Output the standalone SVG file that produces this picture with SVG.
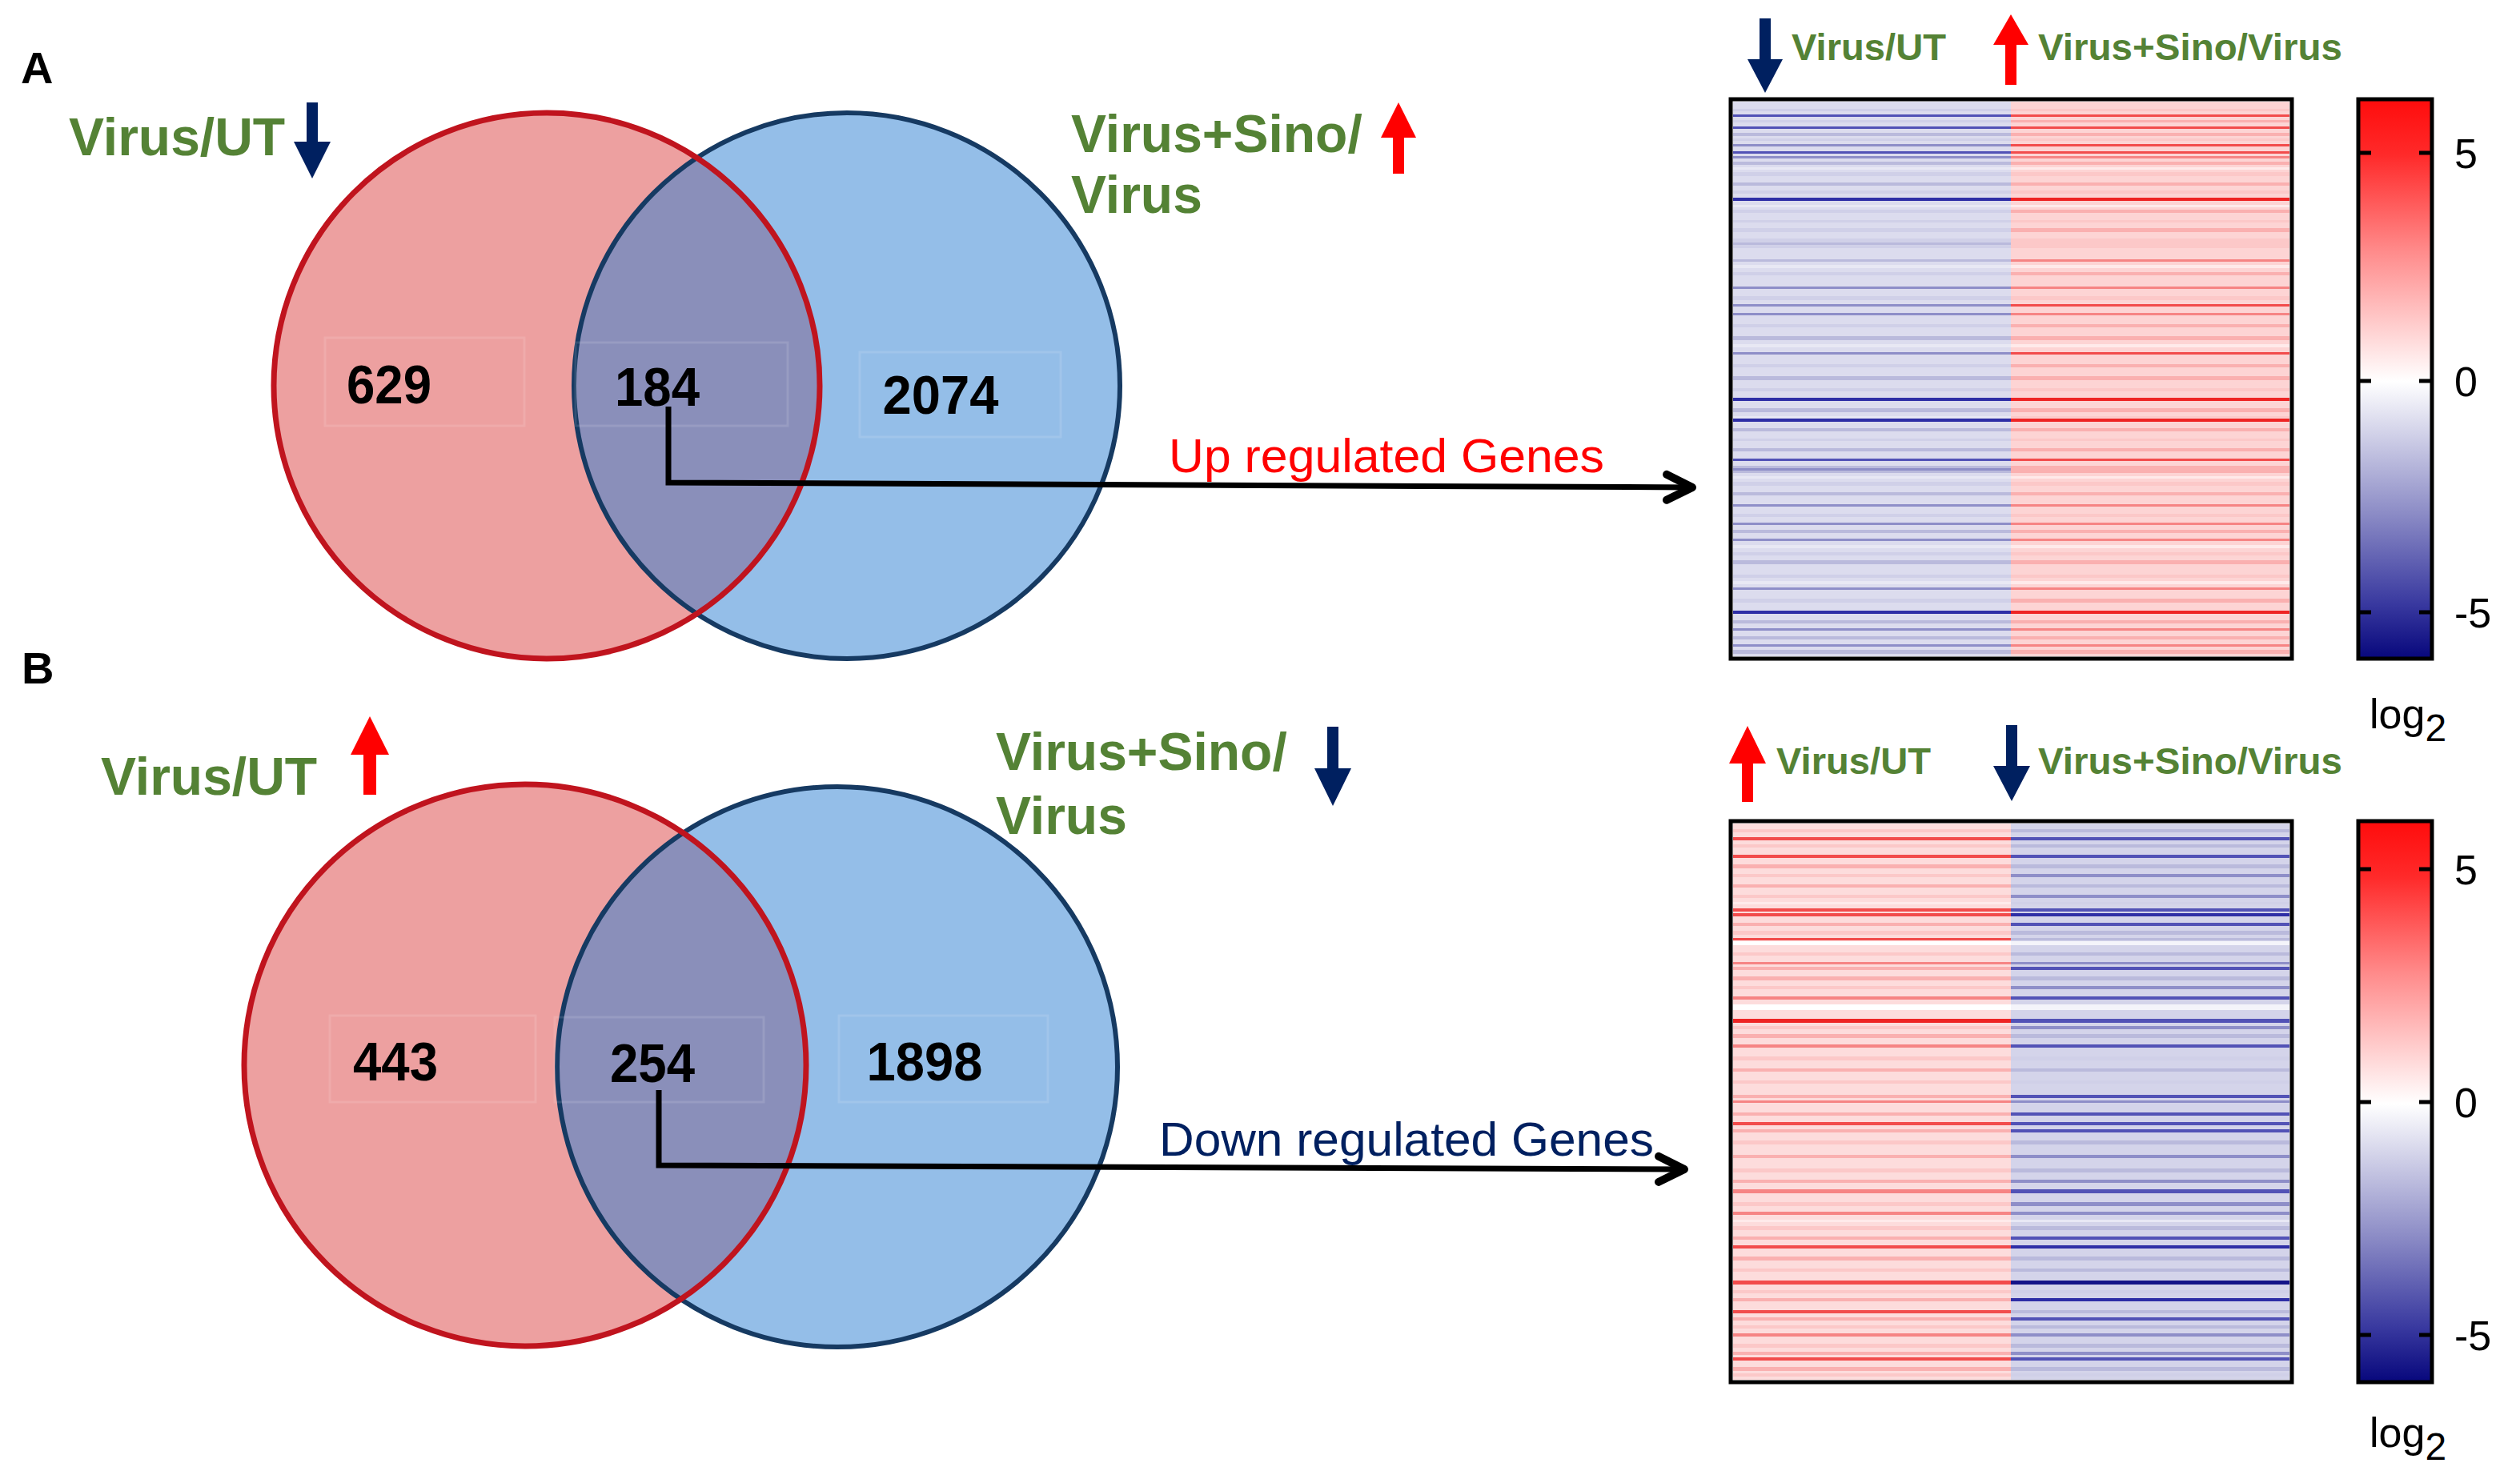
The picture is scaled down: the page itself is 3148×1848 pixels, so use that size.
<svg xmlns="http://www.w3.org/2000/svg" width="3148" height="1848" viewBox="0 0 3148 1848">
<defs>
<style>
.lbl{font-family:"Liberation Sans",Arial,sans-serif;font-weight:bold;fill:#548235}
.num{font-family:"Liberation Sans",Arial,sans-serif;font-weight:bold;fill:#000;font-size:68px;text-anchor:middle}
.ttl{font-family:"Liberation Sans",Arial,sans-serif;font-weight:bold;fill:#000;font-size:56px}
.tick{font-family:"Liberation Sans",Arial,sans-serif;fill:#000;font-size:52px}
.reg{font-family:"Liberation Sans",Arial,sans-serif;font-size:60px}
.rf{fill:#eda0a0}.bf{fill:#94bee8}.of{fill:#8a8fba}
.rs{fill:none;stroke:#c0141e;stroke-width:7}
.bs{fill:none;stroke:#163a62;stroke-width:6}
.fbox{fill:none;stroke:#ffffff;stroke-opacity:0.12;stroke-width:3}
.up{fill:#ff0000}.dn{fill:#002060}
.box{fill:none;stroke:#000;stroke-width:5}
.tk{stroke:#000;stroke-width:5}
.conn{fill:none;stroke:#000;stroke-width:7;marker-end:url(#chev)}
.b0{fill:#e8e8f4}.b1{fill:#d0d0e8}.b2{fill:#babadc}.b3{fill:#8e8ec8}.b4{fill:#5252b6}.b5{fill:#2e2ea6}.b6{fill:#141488}
.r0{fill:#ffeaea}.r1{fill:#fcc8c8}.r2{fill:#fab0b0}.r3{fill:#f68484}.r4{fill:#f24c4c}.r5{fill:#ee2424}
</style>
<marker id="chev" markerUnits="userSpaceOnUse" viewBox="-45 -25 50 50" refX="0" refY="0" markerWidth="50" markerHeight="50" orient="auto">
<path d="M-34,-16 L-2,0 L-34,16" fill="none" stroke="#000" stroke-width="10" stroke-linecap="round" stroke-linejoin="round"/>
</marker>
<linearGradient id="cbar" x1="0" y1="0" x2="0" y2="1">
<stop offset="0" stop-color="#ff0c0c"/>
<stop offset="0.1" stop-color="#ff2a2a"/>
<stop offset="0.27" stop-color="#ff8a8a"/>
<stop offset="0.504" stop-color="#ffffff"/>
<stop offset="0.74" stop-color="#8c8cc6"/>
<stop offset="0.9" stop-color="#3a3aa0"/>
<stop offset="1" stop-color="#07077c"/>
</linearGradient>
<clipPath id="clipRA"><circle cx="683" cy="482" r="341"/></clipPath>
<clipPath id="clipRB"><circle cx="656" cy="1331" r="351"/></clipPath>
</defs>
<rect x="0" y="0" width="3148" height="1848" fill="#ffffff"/>

<text class="ttl" x="26" y="104">A</text>
<text class="ttl" x="27" y="854">B</text>

<g id="venn-a">
<circle class="rf" cx="683" cy="482" r="341"/>
<circle class="bf" cx="1058" cy="482" r="341"/>
<circle class="of" cx="1058" cy="482" r="341" clip-path="url(#clipRA)"/>
<circle class="bs" cx="1058" cy="482" r="341"/>
<circle class="rs" cx="683" cy="482" r="341"/>
<rect class="fbox" x="406" y="422" width="249" height="110"/>
<rect class="fbox" x="719" y="428" width="265" height="104"/>
<rect class="fbox" x="1074" y="440" width="251" height="106"/>
<text class="num" x="486" y="504" textLength="106" lengthAdjust="spacingAndGlyphs">629</text>
<text class="num" x="821" y="507" textLength="106" lengthAdjust="spacingAndGlyphs">184</text>
<text class="num" x="1175" y="517" textLength="145" lengthAdjust="spacingAndGlyphs">2074</text>
</g>

<g id="label-a-left">
<text class="lbl" x="86" y="194" font-size="66">Virus/UT</text>
<path class="dn" d="M383,128 H397 V177 H413 L390,223 L367,177 H383 Z"/>
</g>
<g id="label-a-right">
<text class="lbl" x="1338" y="190" font-size="66">Virus+Sino/</text>
<text class="lbl" x="1338" y="266" font-size="66">Virus</text>
<path class="up" d="M1740,217 V172 H1725 L1747,128 L1769,172 H1754 V217 Z"/>
</g>

<g id="venn-b">
<circle class="rf" cx="656" cy="1331" r="351"/>
<circle class="bf" cx="1046" cy="1333" r="350"/>
<circle class="of" cx="1046" cy="1333" r="350" clip-path="url(#clipRB)"/>
<circle class="bs" cx="1046" cy="1333" r="350"/>
<circle class="rs" cx="656" cy="1331" r="351"/>
<rect class="fbox" x="412" y="1269" width="257" height="108"/>
<rect class="fbox" x="693" y="1271" width="261" height="106"/>
<rect class="fbox" x="1048" y="1269" width="261" height="108"/>
<text class="num" x="494" y="1350" textLength="106" lengthAdjust="spacingAndGlyphs">443</text>
<text class="num" x="815" y="1352" textLength="106" lengthAdjust="spacingAndGlyphs">254</text>
<text class="num" x="1155" y="1350" textLength="145" lengthAdjust="spacingAndGlyphs">1898</text>
</g>

<g id="label-b-left">
<text class="lbl" x="126" y="993" font-size="66">Virus/UT</text>
<path class="up" d="M454,993 V943 H438 L462,895 L486,943 H470 V993 Z"/>
</g>
<g id="label-b-right">
<text class="lbl" x="1244" y="962" font-size="66">Virus+Sino/</text>
<text class="lbl" x="1244" y="1042" font-size="66">Virus</text>
<path class="dn" d="M1658,908 H1672 V960 H1688 L1665,1007 L1642,960 H1658 Z"/>
</g>

<g id="connectors">
<polyline class="conn" points="835,508 835,603 2116,609"/>
<polyline class="conn" points="823,1362 823,1456 2106,1461"/>
</g>
<text class="reg" x="1460" y="590" fill="#ff0000" textLength="544" lengthAdjust="spacingAndGlyphs">Up regulated Genes</text>
<text class="reg" x="1448" y="1444" fill="#002060" textLength="618" lengthAdjust="spacingAndGlyphs">Down regulated Genes</text>

<g id="heatmap-a-header">
<path class="dn" d="M2198,23 H2212 V74 H2227 L2205,116 L2183,74 H2198 Z"/>
<text class="lbl" x="2238" y="75" font-size="46" textLength="193" lengthAdjust="spacingAndGlyphs">Virus/UT</text>
<path class="up" d="M2505,106 V56 H2490 L2512,18 L2534,56 H2519 V106 Z"/>
<text class="lbl" x="2546" y="75" font-size="46" textLength="380" lengthAdjust="spacingAndGlyphs">Virus+Sino/Virus</text>
</g>

<g id="heatmap-a">
<rect x="2165" y="127" width="347" height="693" fill="#dcdcee"/>
<rect x="2512" y="127" width="348" height="693" fill="#fdd4d4"/>
<rect x="2165" y="136" width="347" height="3" class="b1"/><rect x="2512" y="136" width="348" height="3" class="r1"/>
<rect x="2165" y="143" width="347" height="3" class="b4"/><rect x="2512" y="143" width="348" height="3" class="r4"/>
<rect x="2165" y="150" width="347" height="3" class="b1"/><rect x="2512" y="150" width="348" height="3" class="r2"/>
<rect x="2165" y="158" width="347" height="3" class="b4"/><rect x="2512" y="158" width="348" height="3" class="r4"/>
<rect x="2165" y="166" width="347" height="4" class="b2"/><rect x="2512" y="166" width="348" height="4" class="r2"/>
<rect x="2165" y="173" width="347" height="3" class="b1"/><rect x="2512" y="173" width="348" height="3" class="r1"/>
<rect x="2165" y="180" width="347" height="3" class="b3"/><rect x="2512" y="180" width="348" height="3" class="r4"/>
<rect x="2165" y="189" width="347" height="3" class="b4"/><rect x="2512" y="189" width="348" height="3" class="r4"/>
<rect x="2165" y="195" width="347" height="3" class="b3"/><rect x="2512" y="195" width="348" height="3" class="r3"/>
<rect x="2165" y="202" width="347" height="4" class="b2"/><rect x="2512" y="202" width="348" height="4" class="r2"/>
<rect x="2165" y="209" width="347" height="3" class="b0"/><rect x="2512" y="209" width="348" height="3" class="r0"/>
<rect x="2165" y="215" width="347" height="5" class="b1"/><rect x="2512" y="215" width="348" height="5" class="r1"/>
<rect x="2165" y="228" width="347" height="4" class="b2"/><rect x="2512" y="228" width="348" height="4" class="r2"/>
<rect x="2165" y="238" width="347" height="4" class="b1"/><rect x="2512" y="238" width="348" height="4" class="r1"/>
<rect x="2165" y="247" width="347" height="4" class="b5"/><rect x="2512" y="247" width="348" height="4" class="r5"/>
<rect x="2165" y="256" width="347" height="3" class="b0"/><rect x="2512" y="256" width="348" height="3" class="r0"/>
<rect x="2165" y="262" width="347" height="4" class="b1"/><rect x="2512" y="262" width="348" height="4" class="r2"/>
<rect x="2165" y="275" width="347" height="3" class="b1"/><rect x="2512" y="275" width="348" height="3" class="r1"/>
<rect x="2165" y="285" width="347" height="5" class="b1"/><rect x="2512" y="285" width="348" height="5" class="r2"/>
<rect x="2165" y="298" width="347" height="12" class="b1"/><rect x="2512" y="298" width="348" height="12" class="r1"/>
<rect x="2165" y="303" width="347" height="3" class="b2"/>
<rect x="2165" y="324" width="347" height="3" class="b2"/><rect x="2512" y="324" width="348" height="3" class="r3"/>
<rect x="2165" y="331" width="347" height="4" class="b0"/><rect x="2512" y="331" width="348" height="4" class="r0"/>
<rect x="2165" y="340" width="347" height="4" class="b1"/><rect x="2512" y="340" width="348" height="4" class="r2"/>
<rect x="2165" y="358" width="347" height="3" class="b3"/><rect x="2512" y="358" width="348" height="3" class="r3"/>
<rect x="2165" y="370" width="347" height="5" class="b1"/><rect x="2512" y="370" width="348" height="5" class="r1"/>
<rect x="2165" y="380" width="347" height="3" class="b3"/><rect x="2512" y="380" width="348" height="3" class="r4"/>
<rect x="2165" y="391" width="347" height="3" class="b3"/><rect x="2512" y="391" width="348" height="3" class="r3"/>
<rect x="2165" y="405" width="347" height="4" class="b1"/><rect x="2512" y="405" width="348" height="4" class="r2"/>
<rect x="2165" y="420" width="347" height="5" class="b2"/><rect x="2512" y="420" width="348" height="5" class="r2"/>
<rect x="2165" y="430" width="347" height="4" class="b0"/><rect x="2512" y="430" width="348" height="4" class="r0"/>
<rect x="2165" y="440" width="347" height="3" class="b3"/><rect x="2512" y="440" width="348" height="3" class="r4"/>
<rect x="2165" y="455" width="347" height="4" class="b1"/><rect x="2512" y="455" width="348" height="4" class="r2"/>
<rect x="2165" y="470" width="347" height="5" class="b2"/><rect x="2512" y="470" width="348" height="5" class="r2"/>
<rect x="2165" y="485" width="347" height="4" class="b1"/><rect x="2512" y="485" width="348" height="4" class="r1"/>
<rect x="2165" y="497" width="347" height="4" class="b5"/><rect x="2512" y="497" width="348" height="4" class="r5"/>
<rect x="2165" y="510" width="347" height="5" class="b2"/><rect x="2512" y="510" width="348" height="5" class="r2"/>
<rect x="2165" y="520" width="347" height="2" class="b0"/><rect x="2512" y="520" width="348" height="2" class="r1"/>
<rect x="2165" y="523" width="347" height="4" class="b5"/><rect x="2512" y="523" width="348" height="4" class="r5"/>
<rect x="2165" y="535" width="347" height="4" class="b2"/><rect x="2512" y="535" width="348" height="4" class="r2"/>
<rect x="2165" y="548" width="347" height="3" class="b1"/><rect x="2512" y="548" width="348" height="3" class="r1"/>
<rect x="2165" y="560" width="347" height="4" class="b2"/><rect x="2512" y="560" width="348" height="4" class="r2"/>
<rect x="2165" y="573" width="347" height="3" class="b4"/><rect x="2512" y="573" width="348" height="3" class="r4"/>
<rect x="2165" y="582" width="347" height="9" class="b2"/><rect x="2512" y="582" width="348" height="9" class="r2"/>
<rect x="2165" y="585" width="347" height="3" class="b3"/>
<rect x="2165" y="595" width="347" height="3" class="b0"/><rect x="2512" y="595" width="348" height="3" class="r0"/>
<rect x="2165" y="602" width="347" height="5" class="b1"/><rect x="2512" y="602" width="348" height="5" class="r1"/>
<rect x="2165" y="615" width="347" height="4" class="b2"/><rect x="2512" y="615" width="348" height="4" class="r2"/>
<rect x="2165" y="630" width="347" height="3" class="b3"/><rect x="2512" y="630" width="348" height="3" class="r3"/>
<rect x="2165" y="642" width="347" height="4" class="b1"/><rect x="2512" y="642" width="348" height="4" class="r1"/>
<rect x="2165" y="653" width="347" height="3" class="b3"/><rect x="2512" y="653" width="348" height="3" class="r3"/>
<rect x="2165" y="662" width="347" height="4" class="b2"/><rect x="2512" y="662" width="348" height="4" class="r2"/>
<rect x="2165" y="673" width="347" height="3" class="b3"/><rect x="2512" y="673" width="348" height="3" class="r3"/>
<rect x="2165" y="681" width="347" height="4" class="b0"/><rect x="2512" y="681" width="348" height="4" class="r0"/>
<rect x="2165" y="690" width="347" height="4" class="b1"/><rect x="2512" y="690" width="348" height="4" class="r1"/>
<rect x="2165" y="700" width="347" height="5" class="b2"/><rect x="2512" y="700" width="348" height="5" class="r2"/>
<rect x="2165" y="718" width="347" height="4" class="b1"/><rect x="2512" y="718" width="348" height="4" class="r1"/>
<rect x="2165" y="726" width="347" height="4" class="b0"/><rect x="2512" y="726" width="348" height="4" class="r0"/>
<rect x="2165" y="734" width="347" height="3" class="b3"/><rect x="2512" y="734" width="348" height="3" class="r3"/>
<rect x="2165" y="748" width="347" height="5" class="b1"/><rect x="2512" y="748" width="348" height="5" class="r2"/>
<rect x="2165" y="763" width="347" height="4" class="b5"/><rect x="2512" y="763" width="348" height="4" class="r5"/>
<rect x="2165" y="775" width="347" height="4" class="b2"/><rect x="2512" y="775" width="348" height="4" class="r2"/>
<rect x="2165" y="785" width="347" height="3" class="b3"/><rect x="2512" y="785" width="348" height="3" class="r3"/>
<rect x="2165" y="795" width="347" height="4" class="b2"/><rect x="2512" y="795" width="348" height="4" class="r2"/>
<rect x="2165" y="805" width="347" height="3" class="b3"/><rect x="2512" y="805" width="348" height="3" class="r3"/>
<rect x="2165" y="812" width="347" height="5" class="b2"/><rect x="2512" y="812" width="348" height="5" class="r2"/>
<rect class="box" x="2162" y="124" width="701" height="699"/>
</g>

<g id="colorbar-a">
<rect x="2946" y="124" width="92" height="699" fill="url(#cbar)" stroke="#000" stroke-width="5"/>
<line class="tk" x1="2946" y1="191" x2="2962" y2="191"/><line class="tk" x1="3022" y1="191" x2="3038" y2="191"/>
<line class="tk" x1="2946" y1="476" x2="2962" y2="476"/><line class="tk" x1="3022" y1="476" x2="3038" y2="476"/>
<line class="tk" x1="2946" y1="765" x2="2962" y2="765"/><line class="tk" x1="3022" y1="765" x2="3038" y2="765"/>
<text class="tick" x="3066" y="210">5</text>
<text class="tick" x="3066" y="495">0</text>
<text class="tick" x="3066" y="784">-5</text>
<text class="tick" x="2960" y="910" font-size="66">log<tspan font-size="48" dy="16">2</tspan></text>
</g>

<g id="heatmap-b-header">
<path class="up" d="M2176,1002 V954 H2160 L2183,907 L2206,954 H2190 V1002 Z"/>
<text class="lbl" x="2219" y="967" font-size="46" textLength="193" lengthAdjust="spacingAndGlyphs">Virus/UT</text>
<path class="dn" d="M2506,906 H2520 V957 H2536 L2513,1001 L2490,957 H2506 Z"/>
<text class="lbl" x="2546" y="967" font-size="46" textLength="380" lengthAdjust="spacingAndGlyphs">Virus+Sino/Virus</text>
</g>

<g id="heatmap-b">
<rect x="2165" y="1029" width="347" height="695" fill="#fddcdc"/>
<rect x="2512" y="1029" width="348" height="695" fill="#d4d4ea"/>
<rect x="2165" y="1036" width="347" height="4" class="r1"/><rect x="2512" y="1036" width="348" height="4" class="b2"/>
<rect x="2165" y="1046" width="347" height="4" class="r4"/><rect x="2512" y="1046" width="348" height="4" class="b4"/>
<rect x="2165" y="1055" width="347" height="4" class="r1"/><rect x="2512" y="1055" width="348" height="4" class="b2"/>
<rect x="2165" y="1068" width="347" height="4" class="r4"/><rect x="2512" y="1068" width="348" height="4" class="b4"/>
<rect x="2165" y="1080" width="347" height="5" class="r2"/><rect x="2512" y="1080" width="348" height="5" class="b2"/>
<rect x="2165" y="1092" width="347" height="4" class="r1"/><rect x="2512" y="1092" width="348" height="4" class="b3"/>
<rect x="2165" y="1105" width="347" height="4" class="r2"/><rect x="2512" y="1105" width="348" height="4" class="b2"/>
<rect x="2165" y="1118" width="347" height="4" class="r1"/><rect x="2512" y="1118" width="348" height="4" class="b3"/>
<rect x="2165" y="1127" width="347" height="3" class="r0"/><rect x="2512" y="1127" width="348" height="3" class="b1"/>
<rect x="2165" y="1135" width="347" height="4" class="r4"/><rect x="2512" y="1135" width="348" height="4" class="b4"/>
<rect x="2165" y="1141" width="347" height="4" class="r4"/><rect x="2512" y="1141" width="348" height="4" class="b5"/>
<rect x="2165" y="1153" width="347" height="4" class="r2"/><rect x="2512" y="1153" width="348" height="4" class="b4"/>
<rect x="2165" y="1163" width="347" height="5" class="r1"/><rect x="2512" y="1163" width="348" height="5" class="b2"/>
<rect x="2165" y="1172" width="347" height="3" class="r4"/><rect x="2512" y="1172" width="348" height="3" class="b2"/>
<rect x="2165" y="1176" width="347" height="5" fill="#ffffff"/><rect x="2512" y="1176" width="348" height="5" fill="#f4f4fa"/>
<rect x="2165" y="1190" width="347" height="4" class="r1"/><rect x="2512" y="1190" width="348" height="4" class="b2"/>
<rect x="2165" y="1202" width="347" height="3" class="r3"/><rect x="2512" y="1202" width="348" height="3" class="b3"/>
<rect x="2165" y="1208" width="347" height="4" class="r2"/><rect x="2512" y="1208" width="348" height="4" class="b4"/>
<rect x="2165" y="1220" width="347" height="5" class="r2"/><rect x="2512" y="1220" width="348" height="5" class="b2"/>
<rect x="2165" y="1232" width="347" height="4" class="r1"/><rect x="2512" y="1232" width="348" height="4" class="b3"/>
<rect x="2165" y="1245" width="347" height="4" class="r3"/><rect x="2512" y="1245" width="348" height="4" class="b4"/>
<rect x="2165" y="1255" width="347" height="7" fill="#ffffff"/><rect x="2512" y="1255" width="348" height="7" fill="#f4f4fa"/>
<rect x="2165" y="1273" width="347" height="5" class="r5"/><rect x="2512" y="1273" width="348" height="5" class="b4"/>
<rect x="2165" y="1282" width="347" height="4" class="r1"/><rect x="2512" y="1282" width="348" height="4" class="b3"/>
<rect x="2165" y="1292" width="347" height="5" class="r2"/><rect x="2512" y="1292" width="348" height="5" class="b2"/>
<rect x="2165" y="1305" width="347" height="4" class="r3"/><rect x="2512" y="1305" width="348" height="4" class="b4"/>
<rect x="2165" y="1320" width="347" height="5" class="r1"/><rect x="2512" y="1320" width="348" height="5" class="b1"/>
<rect x="2165" y="1335" width="347" height="4" class="r2"/><rect x="2512" y="1335" width="348" height="4" class="b2"/>
<rect x="2165" y="1350" width="347" height="4" class="r1"/><rect x="2512" y="1350" width="348" height="4" class="b1"/>
<rect x="2165" y="1368" width="347" height="4" class="r2"/><rect x="2512" y="1368" width="348" height="4" class="b4"/>
<rect x="2165" y="1375" width="347" height="3" class="r3"/><rect x="2512" y="1375" width="348" height="3" class="b3"/>
<rect x="2165" y="1390" width="347" height="4" class="r2"/><rect x="2512" y="1390" width="348" height="4" class="b4"/>
<rect x="2165" y="1402" width="347" height="4" class="r4"/><rect x="2512" y="1402" width="348" height="4" class="b4"/>
<rect x="2165" y="1411" width="347" height="4" class="r2"/><rect x="2512" y="1411" width="348" height="4" class="b4"/>
<rect x="2165" y="1425" width="347" height="5" class="r1"/><rect x="2512" y="1425" width="348" height="5" class="b2"/>
<rect x="2165" y="1443" width="347" height="4" class="r2"/><rect x="2512" y="1443" width="348" height="4" class="b3"/>
<rect x="2165" y="1460" width="347" height="5" class="r1"/><rect x="2512" y="1460" width="348" height="5" class="b2"/>
<rect x="2165" y="1474" width="347" height="4" class="r2"/><rect x="2512" y="1474" width="348" height="4" class="b3"/>
<rect x="2165" y="1486" width="347" height="5" class="r3"/><rect x="2512" y="1486" width="348" height="5" class="b4"/>
<rect x="2165" y="1502" width="347" height="5" class="r1"/><rect x="2512" y="1502" width="348" height="5" class="b3"/>
<rect x="2165" y="1514" width="347" height="4" class="r3"/><rect x="2512" y="1514" width="348" height="4" class="b3"/>
<rect x="2165" y="1524" width="347" height="3" class="r0"/><rect x="2512" y="1524" width="348" height="3" class="b0"/>
<rect x="2165" y="1532" width="347" height="5" class="r1"/><rect x="2512" y="1532" width="348" height="5" class="b2"/>
<rect x="2165" y="1545" width="347" height="4" class="r2"/><rect x="2512" y="1545" width="348" height="4" class="b4"/>
<rect x="2165" y="1556" width="347" height="4" class="r4"/><rect x="2512" y="1556" width="348" height="4" class="b5"/>
<rect x="2165" y="1570" width="347" height="5" class="r2"/><rect x="2512" y="1570" width="348" height="5" class="b2"/>
<rect x="2165" y="1585" width="347" height="4" class="r1"/><rect x="2512" y="1585" width="348" height="4" class="b2"/>
<rect x="2165" y="1600" width="347" height="5" class="r4"/><rect x="2512" y="1600" width="348" height="5" class="b6"/>
<rect x="2165" y="1612" width="347" height="4" class="r1"/><rect x="2512" y="1612" width="348" height="4" class="b1"/>
<rect x="2165" y="1622" width="347" height="4" class="r2"/><rect x="2512" y="1622" width="348" height="4" class="b5"/>
<rect x="2165" y="1637" width="347" height="4" class="r4"/><rect x="2512" y="1637" width="348" height="4" class="b2"/>
<rect x="2165" y="1646" width="347" height="4" class="r2"/><rect x="2512" y="1646" width="348" height="4" class="b4"/>
<rect x="2165" y="1656" width="347" height="4" class="r1"/><rect x="2512" y="1656" width="348" height="4" class="b2"/>
<rect x="2165" y="1666" width="347" height="4" class="r3"/><rect x="2512" y="1666" width="348" height="4" class="b3"/>
<rect x="2165" y="1679" width="347" height="5" class="r1"/><rect x="2512" y="1679" width="348" height="5" class="b2"/>
<rect x="2165" y="1689" width="347" height="4" class="r2"/><rect x="2512" y="1689" width="348" height="4" class="b3"/>
<rect x="2165" y="1696" width="347" height="4" class="r4"/><rect x="2512" y="1696" width="348" height="4" class="b4"/>
<rect x="2165" y="1708" width="347" height="5" class="r2"/><rect x="2512" y="1708" width="348" height="5" class="b2"/>
<rect x="2165" y="1716" width="347" height="4" class="r1"/><rect x="2512" y="1716" width="348" height="4" class="b1"/>
<rect class="box" x="2162" y="1026" width="701" height="701"/>
</g>

<g id="colorbar-b">
<rect x="2946" y="1026" width="92" height="701" fill="url(#cbar)" stroke="#000" stroke-width="5"/>
<line class="tk" x1="2946" y1="1086" x2="2962" y2="1086"/><line class="tk" x1="3022" y1="1086" x2="3038" y2="1086"/>
<line class="tk" x1="2946" y1="1377" x2="2962" y2="1377"/><line class="tk" x1="3022" y1="1377" x2="3038" y2="1377"/>
<line class="tk" x1="2946" y1="1668" x2="2962" y2="1668"/><line class="tk" x1="3022" y1="1668" x2="3038" y2="1668"/>
<text class="tick" x="3066" y="1105">5</text>
<text class="tick" x="3066" y="1396">0</text>
<text class="tick" x="3066" y="1687">-5</text>
<text class="tick" x="2960" y="1808" font-size="66">log<tspan font-size="48" dy="16">2</tspan></text>
</g>
</svg>
